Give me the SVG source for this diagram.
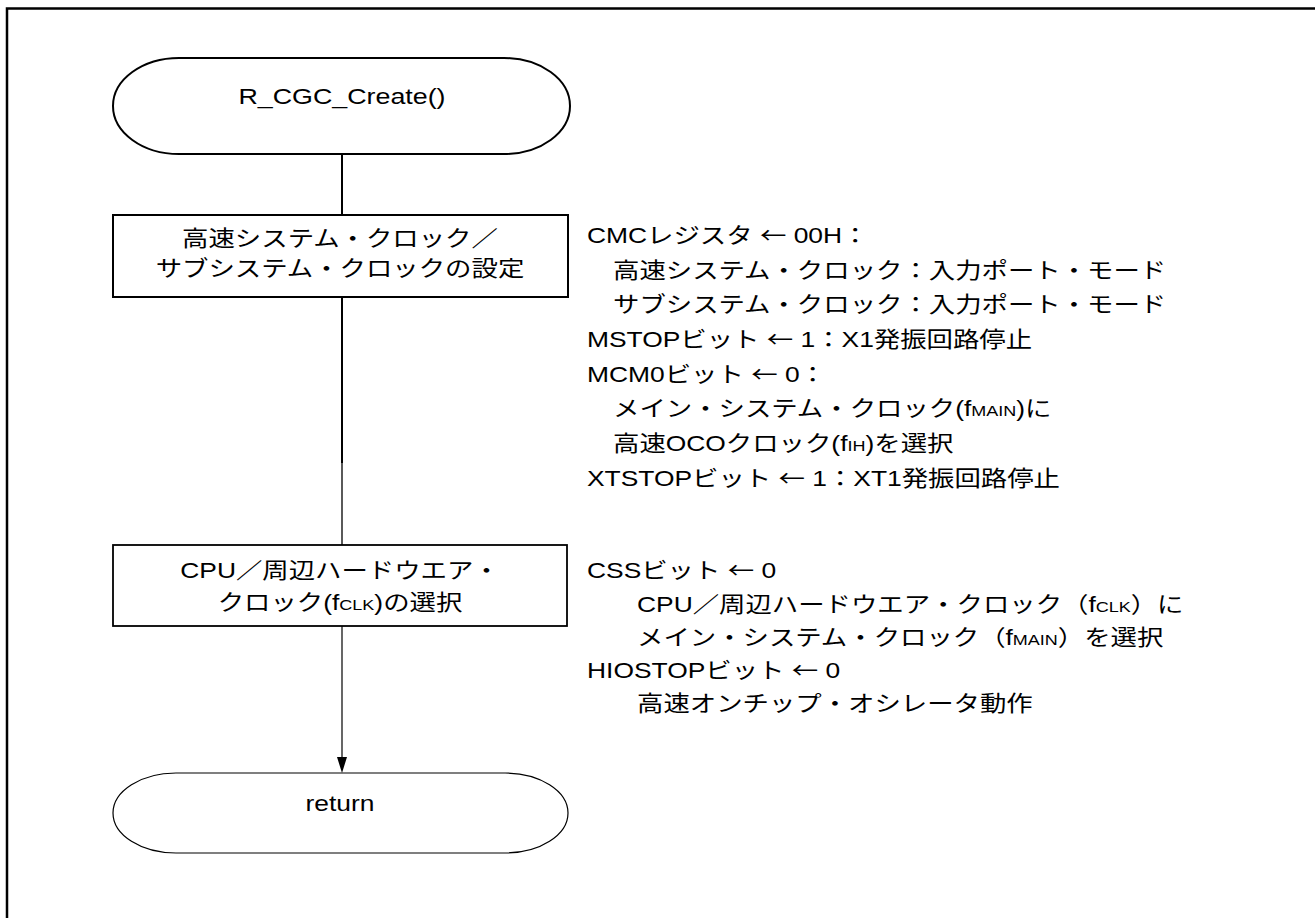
<svg xmlns="http://www.w3.org/2000/svg" width="1315" height="918" viewBox="0 0 1315 918">
<defs>
<style>
text{font-family:"Liberation Sans","Noto Sans CJK JP",sans-serif;font-size:22px;fill:#000}
.c{text-anchor:middle}
.s{font-size:15px}
.a{font-family:"Noto Sans CJK JP",sans-serif}
.shape{fill:#fff;stroke:#000}
.line{fill:none;stroke:#000}
</style>
</defs>
<rect width="1315" height="918" fill="#fff"/>
<path d="M7,918 V8.5 H1315" fill="none" stroke="#000" stroke-width="2.5"/>
<g id="connectors">
<path class="line" d="M342,154 V215" stroke-width="2"/>
<path class="line" d="M342,297 V463" stroke-width="2"/>
<path class="line" d="M342,463 V545" stroke-width="1.3"/>
<path class="line" d="M342,626 V757" stroke-width="1.2"/>
<path d="M337,757 L347,757 L342,773 Z" fill="#000"/>
</g>
<g id="start">
<rect class="shape" x="113" y="58" width="457" height="96" rx="66" ry="48" stroke-width="2"/>
<text class="c" transform="translate(342,104) scale(1.22,1)">R_CGC_Create()</text>
</g>
<g id="box1">
<rect class="shape" x="113" y="215" width="455" height="82" stroke-width="2"/>
<text class="c" transform="translate(340,246) scale(1.2,1)">高速システム・クロック／</text>
<text class="c" transform="translate(340,276) scale(1.2,1)">サブシステム・クロックの設定</text>
</g>
<g id="note1">
<text transform="translate(587,243) scale(1.2,1)">CMCレジスタ <tspan class="a">←</tspan> 00H：</text>
<text transform="translate(613,278) scale(1.2,1)">高速システム・クロック：入力ポート・モード</text>
<text transform="translate(613,312) scale(1.2,1)">サブシステム・クロック：入力ポート・モード</text>
<text transform="translate(587,347) scale(1.2,1)">MSTOPビット <tspan class="a">←</tspan> 1：X1発振回路停止</text>
<text transform="translate(587,382) scale(1.2,1)">MCM0ビット <tspan class="a">←</tspan> 0：</text>
<text transform="translate(613,416) scale(1.2,1)">メイン・システム・クロック(f<tspan class="s">MAIN</tspan>)に</text>
<text transform="translate(613,451) scale(1.2,1)">高速OCOクロック(f<tspan class="s">IH</tspan>)を選択</text>
<text transform="translate(587,486) scale(1.2,1)">XTSTOPビット <tspan class="a">←</tspan> 1：XT1発振回路停止</text>
</g>
<g id="box2">
<rect class="shape" x="113" y="545" width="454" height="81" stroke-width="1.8"/>
<text class="c" transform="translate(340,578) scale(1.2,1)">CPU／周辺ハードウエア・</text>
<text class="c" transform="translate(340,610) scale(1.2,1)">クロック(f<tspan class="s">CLK</tspan>)の選択</text>
</g>
<g id="note2">
<text transform="translate(587,578) scale(1.2,1)">CSSビット <tspan class="a">←</tspan> 0</text>
<text transform="translate(637,612) scale(1.2,1)">CPU／周辺ハードウエア・クロック（f<tspan class="s">CLK</tspan>）に</text>
<text transform="translate(637,645) scale(1.2,1)">メイン・システム・クロック（f<tspan class="s">MAIN</tspan>）を選択</text>
<text transform="translate(587,678) scale(1.2,1)">HIOSTOPビット <tspan class="a">←</tspan> 0</text>
<text transform="translate(637,711) scale(1.2,1)">高速オンチップ・オシレータ動作</text>
</g>
<g id="end">
<rect class="shape" x="113" y="773" width="455" height="80" rx="63" ry="40" stroke-width="1.2"/>
<text class="c" transform="translate(340,811) scale(1.2,1)">return</text>
</g>
</svg>
